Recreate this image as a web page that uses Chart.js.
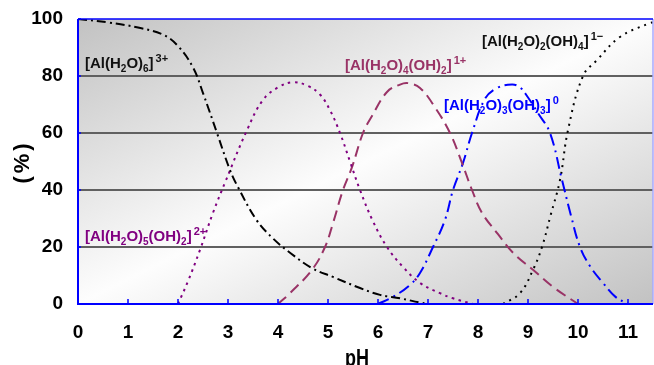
<!DOCTYPE html>
<html>
<head>
<meta charset="utf-8">
<script src="https://cdn.jsdelivr.net/npm/chart.js@4"></script>
<style>
  html, body { margin: 0; padding: 0; background: #fff; }
  canvas { display: block; }
</style>
</head>
<body>
<canvas id="chart" width="654" height="365"></canvas>
<script>
// species distribution of Al(III) vs pH
const phHex = [0, 0.6, 1.2, 1.7, 2.0, 2.3, 2.5, 2.78, 3.04, 3.2, 3.57, 3.9, 4.24, 4.68, 5.1, 5.64, 6.04, 6.44, 6.84, 7.0];
const pctHex = [100, 98.8, 97, 94.5, 90.5, 83, 74, 60, 47, 41, 29.5, 23, 18, 12.6, 9.5, 5.6, 3.2, 2, 0.5, 0];

const phPenta = [2.0, 2.2, 2.44, 2.7, 2.95, 3.38, 3.7, 4.0, 4.3, 4.6, 4.84, 5.04, 5.24, 5.44, 5.64, 5.9, 6.18, 6.5, 6.84, 7.24, 7.5, 7.9];
const pctPenta = [0, 8, 19, 32, 43, 61, 71.6, 76, 77.8, 76.5, 73.5, 68, 60, 50, 40, 29, 20, 13, 7.4, 3.8, 2, 0];

const phTetra = [4.0, 4.24, 4.68, 4.94, 5.1, 5.3, 5.48, 5.7, 5.88, 6.18, 6.44, 6.6, 6.84, 7.14, 7.44, 7.68, 7.88, 8.08, 8.4, 8.7, 9.1, 9.5, 10.0];
const pctTetra = [0, 3.8, 12, 20, 28.4, 40, 48, 60, 66, 74.4, 77, 77.5, 75.8, 69, 60, 49.5, 40, 32, 24.5, 18, 12, 6, 0];

const phTri = [6.0, 6.3, 6.64, 6.84, 7.1, 7.34, 7.5, 7.7, 7.88, 8.14, 8.38, 8.68, 8.84, 8.98, 9.2, 9.44, 9.68, 9.86, 10.04, 10.25, 10.5, 10.75, 11.0];
const pctTri = [0, 2.5, 6.7, 10.9, 20, 29.5, 40, 49.5, 60, 72, 75.8, 77, 76, 73, 67, 60, 43.5, 31, 20, 13, 7.4, 2.5, 0];

const phDi = [8.5, 8.84, 9.1, 9.28, 9.45, 9.64, 9.8, 10.1, 10.38, 10.84, 11.44, 11.5];
const pctDi = [0, 3.8, 12, 20, 31, 43.5, 61, 80, 85.6, 93.7, 98.6, 98.8];

const xTicks = [0, 1, 2, 3, 4, 5, 6, 7, 8, 9, 10, 11];
const yTicks = [0, 20, 40, 60, 80, 100];

// formula labels: [segments, colour, pH, %] ; seg mode 0 normal, -1 sub, 1 sup
const labels = [
  [[["[Al(H", 0], ["2", -1], ["O)", 0], ["6", -1], ["]", 0], ["3+", 1]], "#111111", 0.14, 82.8],
  [[["[Al(H", 0], ["2", -1], ["O)", 0], ["5", -1], ["(OH)", 0], ["2", -1], ["]", 0], ["2+", 1]], "#800080", 0.14, 22.1],
  [[["[Al(H", 0], ["2", -1], ["O)", 0], ["4", -1], ["(OH)", 0], ["2", -1], ["]", 0], ["1+", 1]], "#993366", 5.34, 82.1],
  [[["[Al(H", 0], ["2", -1], ["O)", 0], ["3", -1], ["(OH)", 0], ["3", -1], ["]", 0], ["0", 1]], "#0000ff", 7.32, 68.1],
  [[["[Al(H", 0], ["2", -1], ["O)", 0], ["2", -1], ["(OH)", 0], ["4", -1], ["]", 0], ["1\u2212", 1]], "#111111", 8.08, 90.5],
];

function pts(xs, ys) {
  return xs.map((x, i) => ({ x: x, y: ys[i] }));
}

function series(xs, ys, color, dash) {
  return {
    data: pts(xs, ys),
    borderColor: color,
    borderWidth: 2,
    borderDash: dash,
    pointRadius: 0,
    fill: false,
    tension: 0.4,
  };
}

const bgPlugin = {
  id: "bg",
  beforeDraw(chart) {
    const { ctx, chartArea: a } = chart;
    const W = a.right - a.left, H = a.bottom - a.top;
    const cx = a.left + W / 2, cy = a.top + H / 2;
    // isolines run along the bottom-left / top-right diagonal
    const k = (W * H) / (H * H + W * W);
    const g = ctx.createLinearGradient(cx - H * k, cy - W * k, cx + H * k, cy + W * k);
    g.addColorStop(0, "#c2c2c2");
    g.addColorStop(0.5, "#fdfdfd");
    g.addColorStop(1, "#c2c2c2");
    ctx.save();
    ctx.fillStyle = g;
    ctx.fillRect(a.left, a.top, W, H);
    ctx.restore();
  },
};

const decoPlugin = {
  id: "deco",
  afterDraw(chart) {
    const { ctx, chartArea: a } = chart;
    const xs = chart.scales.x, ys = chart.scales.y;
    ctx.save();

    // frame
    ctx.strokeStyle = "#a8a8ff";
    ctx.lineWidth = 1.5;
    ctx.beginPath(); ctx.moveTo(a.right, a.top); ctx.lineTo(a.right, a.bottom); ctx.stroke();
    ctx.strokeStyle = "#0000ff";
    ctx.lineWidth = 1.5;
    ctx.beginPath(); ctx.moveTo(a.left, a.top); ctx.lineTo(a.right, a.top); ctx.stroke();
    ctx.lineWidth = 2;
    ctx.beginPath(); ctx.moveTo(a.left, a.top); ctx.lineTo(a.left, a.bottom); ctx.lineTo(a.right, a.bottom); ctx.stroke();

    // inner tick marks
    ctx.lineWidth = 1.5;
    xTicks.forEach((v) => {
      const px = xs.getPixelForValue(v);
      ctx.beginPath(); ctx.moveTo(px, a.bottom); ctx.lineTo(px, a.bottom - 5); ctx.stroke();
    });
    yTicks.forEach((v) => {
      const py = ys.getPixelForValue(v);
      ctx.beginPath(); ctx.moveTo(a.left, py); ctx.lineTo(a.left + 3, py); ctx.stroke();
    });

    // formula labels
    ctx.textBaseline = "alphabetic";
    ctx.textAlign = "left";
    labels.forEach(([segs, color, lx, ly]) => {
      let x = xs.getPixelForValue(lx);
      const y = ys.getPixelForValue(ly);
      ctx.fillStyle = color;
      segs.forEach(([t, mode]) => {
        if (mode === 0) {
          ctx.font = "bold 15px 'Liberation Sans', Arial, sans-serif";
          ctx.fillText(t, x, y);
        } else if (mode === -1) {
          ctx.font = "bold 10px 'Liberation Sans', Arial, sans-serif";
          ctx.fillText(t, x, y + 4);
        } else {
          x += 2;
          ctx.font = "bold 11px 'Liberation Sans', Arial, sans-serif";
          ctx.fillText(t, x, y - 6);
        }
        x += ctx.measureText(t).width;
      });
    });

    // axis titles
    ctx.fillStyle = "#000";
    ctx.save();
    ctx.translate(357, 366);
    ctx.scale(0.75, 1);
    ctx.font = "bold 24px 'Liberation Sans', Arial, sans-serif";
    ctx.textAlign = "center";
    ctx.fillText("pH", 0, 0);
    ctx.restore();

    ctx.translate(23, 162);
    ctx.rotate(-Math.PI / 2);
    ctx.font = "bold 22px 'Liberation Sans', Arial, sans-serif";
    ctx.textAlign = "center";
    ctx.textBaseline = "middle";
    ctx.letterSpacing = "3px";
    ctx.fillText("(%)", 0, 0);
    ctx.restore();
  },
};

new Chart(document.getElementById("chart").getContext("2d"), {
  type: "line",
  data: {
    datasets: [
      series(phHex, pctHex, "#000000", [9, 4, 2, 4]),
      series(phPenta, pctPenta, "#800080", [2.5, 4.5]),
      series(phTetra, pctTetra, "#993366", [11, 6]),
      series(phTri, pctTri, "#0000ff", [12, 5, 2, 5]),
      series(phDi, pctDi, "#000000", [2, 5]),
    ],
  },
  options: {
    responsive: false,
    animation: false,
    devicePixelRatio: 1,
    layout: { padding: { top: 19, right: 1, left: 0, bottom: 0 } },
    plugins: { legend: { display: false }, tooltip: { enabled: false } },
    scales: {
      x: {
        type: "linear",
        min: 0,
        max: 11.5,
        afterFit: (s) => { s.height = 61; s.paddingLeft = 0; s.paddingRight = 0; },
        border: { display: false },
        grid: { display: false, drawTicks: false },
        ticks: {
          stepSize: 1,
          includeBounds: false,
          autoSkip: false,
          maxRotation: 0,
          padding: 17,
          color: "#000",
          font: { family: "'Liberation Sans', Arial, sans-serif", size: 19, weight: "bold" },
          callback: (v) => (Number.isInteger(v) ? v : ""),
        },
      },
      y: {
        min: 0,
        max: 100,
        afterFit: (s) => { s.width = 78; s.paddingTop = 0; s.paddingBottom = 0; },
        border: { display: false },
        grid: {
          drawTicks: false,
          lineWidth: 2,
          color: (c) => (c.tick && (c.tick.value === 0 || c.tick.value === 100) ? "rgba(0,0,0,0)" : "#606060"),
        },
        ticks: {
          stepSize: 20,
          padding: 15,
          color: "#000",
          font: { family: "'Liberation Sans', Arial, sans-serif", size: 19, weight: "bold" },
        },
      },
    },
  },
  plugins: [bgPlugin, decoPlugin],
});
</script>
</body>
</html>
